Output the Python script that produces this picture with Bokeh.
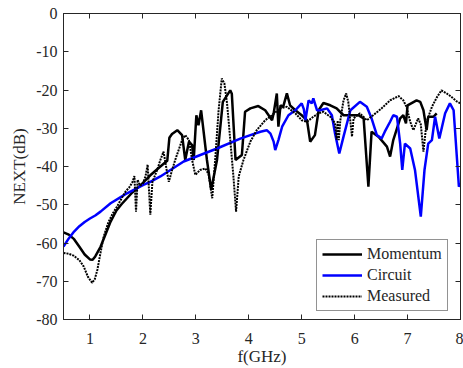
from bokeh.plotting import figure
from bokeh.models import LinearAxis, Range1d, FixedTicker, CustomJSTickFormatter, Legend, LegendItem
from bokeh.embed import file_html
from bokeh.resources import INLINE

# ---- data ----
mom_f = [0.5, 0.6, 0.7, 0.8, 0.9, 1.0, 1.05, 1.1, 1.2, 1.3, 1.39, 1.5, 1.6, 1.7, 1.8, 1.95, 2.14, 2.33,
         2.46, 2.50, 2.55, 2.65, 2.74, 2.80, 2.87, 2.93, 2.96, 3.01, 3.05, 3.10, 3.21, 3.29, 3.40, 3.51,
         3.65, 3.68, 3.75, 3.87, 3.93, 4.03, 4.18, 4.31, 4.44, 4.47, 4.53, 4.56, 4.60, 4.65, 4.72, 4.78,
         4.88, 5.00, 5.10, 5.16, 5.25, 5.32, 5.41, 5.54, 5.66, 5.79, 5.92, 6.07, 6.17, 6.26, 6.32, 6.45,
         6.61, 6.67, 6.73, 6.86, 6.92, 6.97, 7.00, 7.17, 7.24, 7.30, 7.36, 7.39, 7.49, 7.55]
mom_db = [-57.2, -57.8, -59.0, -61.0, -63.0, -64.3, -64.4, -63.5, -61.0, -57.5, -54.4, -51.5, -49.8, -48.3,
          -46.8, -45.0, -42.3, -40.0, -38.5, -32.5, -31.5, -30.5, -31.8, -38.3, -33.5, -34.4, -38.3, -26.6,
          -29.2, -25.3, -38.3, -46.1, -38.3, -23.1, -20.1, -21.0, -38.3, -37.0, -25.7, -24.8, -24.2, -25.3,
          -27.9, -26.1, -20.9, -29.6, -24.0, -24.4, -20.9, -24.0, -25.3, -26.6, -27.9, -33.5, -31.8, -25.3,
          -23.4, -24.0, -24.8, -26.6, -26.6, -26.6, -27.4, -45.3, -30.9, -32.2, -34.8, -37.4, -33.1, -27.4,
          -26.6, -28.7, -24.0, -22.7, -23.1, -25.3, -30.5, -27.0, -27.0, -26.1]

cir_f = [0.5, 0.6, 0.7, 0.8, 0.9, 1.0, 1.1, 1.2, 1.39, 1.58, 1.70, 2.01, 2.14, 2.33, 2.77, 3.40, 3.84,
         4.03, 4.22, 4.34, 4.41, 4.47, 4.50, 4.56, 4.63, 4.75, 4.88, 5.00, 5.04, 5.07, 5.13, 5.19, 5.22,
         5.29, 5.35, 5.48, 5.57, 5.63, 5.71, 5.79, 5.92, 6.10, 6.23, 6.32, 6.42, 6.51, 6.57, 6.67, 6.73,
         6.80, 6.86, 6.90, 6.95, 7.05, 7.14, 7.25, 7.32, 7.39, 7.46, 7.52, 7.60, 7.71, 7.80, 7.87, 7.97, 8.0]
cir_db = [-60.9, -58.8, -57.0, -55.6, -54.5, -53.6, -52.8, -51.8, -49.6, -48.0, -47.0, -44.8, -44.0, -42.6,
          -38.7, -35.3, -32.7, -31.8, -30.9, -30.5, -31.4, -33.5, -35.7, -33.1, -29.6, -26.6, -25.3, -23.5,
          -25.0, -27.9, -22.7, -23.5, -22.2, -25.3, -25.3, -24.8, -26.6, -31.4, -36.6, -32.2, -25.3, -23.1,
          -24.4, -27.4, -31.8, -32.7, -30.9, -28.3, -26.6, -27.0, -34.0, -40.9, -34.0, -35.3, -40.9, -53.1,
          -40.9, -34.0, -33.1, -27.0, -32.7, -26.1, -23.5, -25.3, -45.3, -44.4]

mea_f = [0.5, 0.6, 0.69, 0.8, 0.88, 0.96, 1.04, 1.09, 1.14, 1.2, 1.26, 1.35, 1.43, 1.51, 1.6, 1.67, 1.74,
         1.80, 1.84, 1.87, 1.90, 1.95, 2.0, 2.05, 2.09, 2.14, 2.18, 2.27, 2.33, 2.39, 2.46, 2.49, 2.55, 2.61,
         2.74, 2.80, 2.87, 2.93, 2.99, 3.08, 3.18, 3.24, 3.31, 3.37, 3.43, 3.49, 3.54, 3.59, 3.64, 3.71, 3.76,
         3.81, 3.90, 4.03, 4.15, 4.31, 4.44, 4.59, 4.72, 4.88, 5.00, 5.10, 5.22, 5.32, 5.41, 5.54, 5.63, 5.66,
         5.68, 5.70, 5.73, 5.79, 5.84, 5.88, 5.95, 5.98, 6.10, 6.23, 6.35, 6.51, 6.67, 6.83, 6.92, 6.98, 7.05,
         7.11, 7.20, 7.25, 7.30, 7.36, 7.46, 7.55, 7.64, 7.74, 7.83, 7.93, 8.0]
mea_db = [-62.6, -62.8, -63.3, -64.5, -66.1, -68.8, -70.4, -69.5, -67.0, -62.5, -58.3, -54.5, -52.3, -50.5,
          -48.3, -46.6, -45.5, -44.2, -42.5, -51.8, -43.5, -45.0, -44.5, -42.5, -39.5, -52.6, -44.0, -40.9,
          -38.3, -36.1, -41.8, -44.0, -41.0, -38.3, -33.1, -31.8, -33.1, -38.3, -42.2, -40.9, -40.5, -42.0,
          -48.3, -37.4, -25.3, -17.0, -18.3, -23.5, -31.4, -42.6, -51.8, -42.6, -38.3, -33.5, -30.5, -27.9,
          -26.6, -24.8, -24.4, -26.1, -27.9, -28.3, -27.0, -26.1, -25.7, -27.0, -28.7, -33.0, -28.0, -33.1,
          -27.9, -22.7, -20.9, -23.1, -32.2, -27.4, -26.1, -27.9, -26.6, -24.8, -22.7, -21.6, -22.7, -24.4,
          -28.3, -30.5, -27.4, -29.0, -36.1, -28.3, -24.4, -22.0, -20.1, -20.9, -21.8, -23.0, -23.5]

x_ticks = [1, 2, 3, 4, 5, 6, 7, 8]
y_ticks = [-80, -70, -60, -50, -40, -30, -20, -10, 0]

FONT = "Liberation Serif"
AX = "#262626"

p = figure(width=463, height=368, output_backend="svg", toolbar_location=None,
           x_range=Range1d(0.5, 8), y_range=Range1d(-80, 0),
           min_border_left=63, min_border_right=3, min_border_top=13, min_border_bottom=48)
p.grid.visible = False
p.outline_line_color = AX
p.outline_line_width = 1
p.background_fill_color = "white"
p.border_fill_color = "white"

def style(ax):
    ax.major_tick_in = 5
    ax.major_tick_out = 0
    ax.minor_tick_in = 0
    ax.minor_tick_out = 0
    ax.axis_line_color = AX
    ax.major_tick_line_color = AX
    ax.major_label_text_font = FONT
    ax.major_label_text_font_size = "16px"
    ax.major_label_text_color = AX
    ax.axis_label_text_font = FONT
    ax.axis_label_text_font_size = "17px"
    ax.axis_label_text_font_style = "normal"
    ax.axis_label_text_color = AX

xa = p.xaxis[0]
ya = p.yaxis[0]
style(xa); style(ya)
xa.ticker = FixedTicker(ticks=x_ticks)
ya.ticker = FixedTicker(ticks=y_ticks)
xa.major_label_overrides = {t: str(t) for t in x_ticks}
ya.major_label_overrides = {t: str(t) for t in y_ticks}
xa.axis_label = "f(GHz)"
ya.axis_label = "NEXT(dB)"
xa.major_label_standoff = 13
ya.major_label_standoff = 6
xa.axis_label_standoff = 0
ya.axis_label_standoff = 4

blank = CustomJSTickFormatter(code="return ''")
top = LinearAxis(ticker=FixedTicker(ticks=x_ticks), formatter=blank)
right = LinearAxis(ticker=FixedTicker(ticks=y_ticks), formatter=blank)
for a in (top, right):
    style(a)
    a.major_label_standoff = 0
    a.major_label_text_font_size = "1px"
p.add_layout(top, "above")
p.add_layout(right, "right")

r1 = p.line(mom_f, mom_db, line_color="black", line_width=2.5)
r2 = p.line(cir_f, cir_db, line_color="#0000ff", line_width=2.5)
r3 = p.line(mea_f, mea_db, line_color="black", line_width=2, line_dash="2 1")

legend = Legend(items=[LegendItem(label="Momentum", renderers=[r1]),
                       LegendItem(label="Circuit", renderers=[r2]),
                       LegendItem(label="Measured", renderers=[r3])],
                location=(253, 8))
legend.margin = 0
legend.padding = 5
legend.spacing = 3
legend.glyph_width = 40
legend.glyph_height = 16
legend.label_height = 16
legend.label_standoff = 5
legend.label_text_font = FONT
legend.label_text_font_size = "16px"
legend.label_text_color = AX
legend.border_line_color = AX
legend.border_line_width = 1
legend.background_fill_color = "white"
legend.background_fill_alpha = 1
p.add_layout(legend, "center")

open("out.html", "w").write(file_html(p, INLINE))
